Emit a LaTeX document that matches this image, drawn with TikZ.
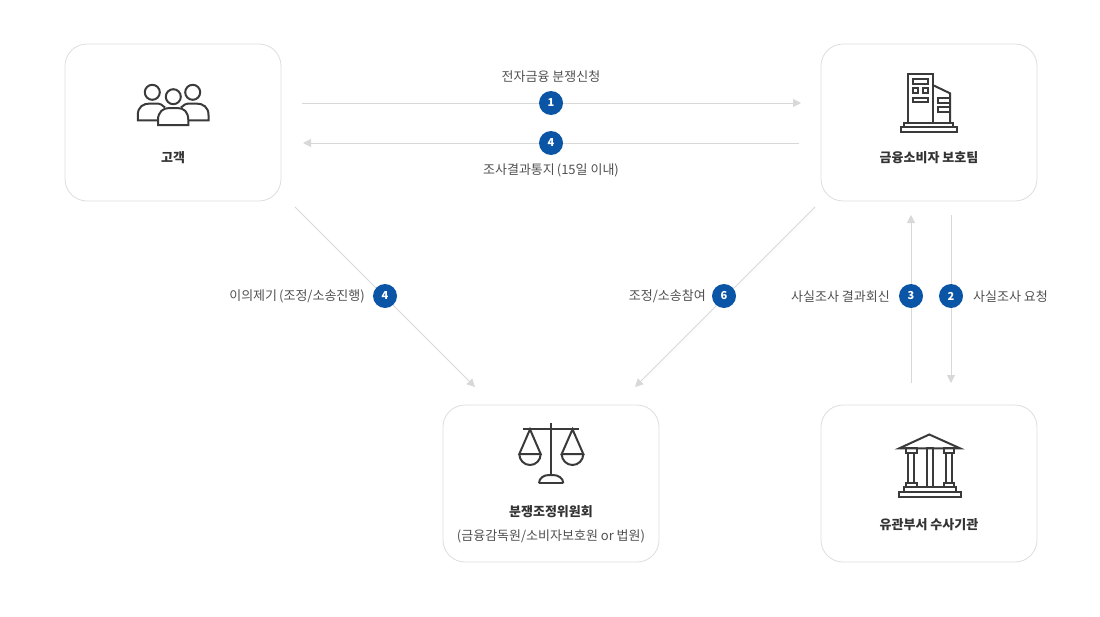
\documentclass[tikz,border=0pt]{standalone}
\usepackage{fontspec}
\setmainfont{Noto Sans CJK KR}
\usetikzlibrary{arrows.meta}
\definecolor{linegray}{HTML}{D8D8D8}
\definecolor{boxgray}{HTML}{DDDDDD}
\definecolor{txt}{HTML}{505050}
\definecolor{icon}{HTML}{3A3A3A}
\definecolor{badgeblue}{HTML}{0B55A6}
\tikzset{
  card/.style={draw=boxgray,line width=0.8pt,rounded corners=22pt,minimum width=216pt,minimum height=157pt,inner sep=0pt},
  flow/.style={draw=linegray,line width=0.9pt,-{Triangle[length=8pt,width=8pt,fill=linegray]}},
  badge/.style={circle,fill=badgeblue,text=white,minimum size=24pt,inner sep=0pt,font=\fontsize{11}{11}\selectfont\bfseries},
  lbl/.style={text=txt,inner sep=0pt,font=\fontsize{13}{15}\selectfont},
  ttl/.style={text=black!80,inner sep=0pt,font=\fontsize{13}{15}\selectfont\bfseries},
  ic/.style={draw=icon,line width=2pt,line join=miter},
}
\begin{document}
\begin{tikzpicture}[x=1pt,y=-1pt]
\useasboundingbox (0,0) rectangle (1100,616);
% cards
\node[card] (cust) at (173,122.5) {};
\node[card] (team) at (929,122.5) {};
\node[card] (adr)  at (551,483.5) {};
\node[card] (inv)  at (929,483.5) {};
% connector ends
\coordinate (a1s) at (302,103); \coordinate (a1e) at (801,103);
\coordinate (a4s) at (799,143); \coordinate (a4e) at (303,143);
\coordinate (d1s) at (295,207); \coordinate (d1e) at (475,387);
\coordinate (d2s) at (815,207); \coordinate (d2e) at (635,387);
\coordinate (v3s) at (911,383); \coordinate (v3e) at (911,215);
\coordinate (v2s) at (951,215); \coordinate (v2e) at (951,383);
\draw[flow] (a1s) -- (a1e);
\draw[flow] (a4s) -- (a4e);
\draw[flow] (d1s) -- (d1e);
\draw[flow] (d2s) -- (d2e);
\draw[flow] (v3s) -- (v3e);
\draw[flow] (v2s) -- (v2e);
% badges
\node[badge] (b1) at (551,103) {1};
\node[badge] (b4a) at (551,143) {4};
\node[badge] (b4b) at (385,296) {4};
\node[badge] (b6) at (724,296) {6};
\node[badge] (b3) at (911,296) {3};
\node[badge] (b2) at (951,296) {2};
% labels
\node[lbl] (l1) at (551,76.5) {전자금융 분쟁신청};
\node[lbl] (l4a) at (551,170) {조사결과통지\hspace{2pt}(15일 이내)\hspace{1pt}};
\node[lbl,anchor=east] (l4b) at (365,296.5) {이의제기\hspace{2pt}(조정/소송진행)\hspace{1pt}};
\node[lbl,anchor=east] (l6) at (706,296.5) {조정/소송참여};
\node[lbl,anchor=east] (l3) at (890,296.5) {사실조사 결과회신};
\node[lbl,anchor=west] (l2) at (973,296.5) {사실조사 요청};
\node[ttl] (t1) at (173,157.5) {고객};
\node[ttl] (t2) at (929,157.5) {금융소비자 보호팀};
\node[ttl] (t3) at (551,511.5) {분쟁조정위원회};
\node[lbl] (t3b) at (551,536) {(금융감독원/소비자보호원 or 법원)};
\node[ttl] (t4) at (929,524.5) {유관부서 수사기관};
% people icon
\draw[ic] (152.3,92.3) circle (7.5);
\draw[ic] (192.7,92.3) circle (7.5);
\draw[ic] (173.3,96.7) circle (7.5);
\draw[ic] (158,120.3) -- (137.8,120.3) -- (137.8,115) .. controls (137.8,107) and (143,103.5) .. (150,103.5) -- (156,103.5) .. controls (160,103.5) and (163,105) .. (165,107.5);
\draw[ic] (188,120.3) -- (208.5,120.3) -- (208.5,115) .. controls (208.5,107) and (203,103.5) .. (196,103.5) -- (190,103.5) .. controls (186,103.5) and (183,105) .. (181,107.5);
\draw[ic] (158,125) -- (158,120) .. controls (158,112) and (163,108) .. (169,108) -- (177.5,108) .. controls (184,108) and (188.3,112) .. (188.3,120) -- (188.3,125) -- cycle;
% building icon
\draw[ic] (907.5,122.7) -- (907.5,73.5) -- (932.7,73.5) -- (932.7,122.7);
\draw[ic] (932.7,85) -- (950,93.3) -- (950,122.7);
\draw[ic] (912.7,79.3) rectangle (928.3,84);
\draw[ic] (912.7,88.3) rectangle (918.3,92.7);
\draw[ic] (923.3,88.3) rectangle (928.3,92.7);
\draw[ic] (912.7,97.7) rectangle (928.3,102.3);
\draw[ic] (938.3,98.3) rectangle (950,103.3);
\draw[ic] (938.3,107.3) rectangle (950,112.3);
\draw[ic] (904.3,127.3) -- (904.3,122.7) -- (953.3,122.7) -- (953.3,127.3);
\draw[ic] (900.7,127.3) rectangle (957.3,132);
% scales icon
\draw[ic] (550.7,423.3) -- (550.7,475);
\draw[ic] (522.7,429.3) -- (579.3,429.3);
\draw[ic] (519.3,454) -- (530,429.3) -- (540.7,454) -- cycle;
\draw[ic] (519.3,454) arc[start angle=180,end angle=0,x radius=10.7,y radius=11];
\draw[ic] (561.7,454) -- (572.5,429.3) -- (583.3,454) -- cycle;
\draw[ic] (561.7,454) arc[start angle=180,end angle=0,x radius=10.8,y radius=11];
\draw[ic] (539,483.3) -- (563.3,483.3);
\draw[ic] (539,483.3) .. controls (539,478) and (544,475) .. (549,475) -- (553,475) .. controls (558,475) and (563.3,478) .. (563.3,483.3);
% institution icon
\draw[ic] (929.3,434.5) -- (899.3,448.3) -- (960,448.3) -- cycle;
\draw[ic] (906,448.3) rectangle (916.7,453.3);
\draw[ic] (908.3,453.3) rectangle (914.3,482.7);
\draw[ic] (906,482.7) rectangle (916.7,486.7);
\draw[ic] (944,448.3) rectangle (954,453.3);
\draw[ic] (946,453.3) rectangle (952.3,482.7);
\draw[ic] (944,482.7) rectangle (954,486.7);
\draw[ic] (927.3,448.3) rectangle (932.7,486.7);
\draw[ic] (904.3,486.7) rectangle (956,491.7);
\draw[ic] (899,491.7) rectangle (960.7,497.3);
\end{tikzpicture}
\end{document}
